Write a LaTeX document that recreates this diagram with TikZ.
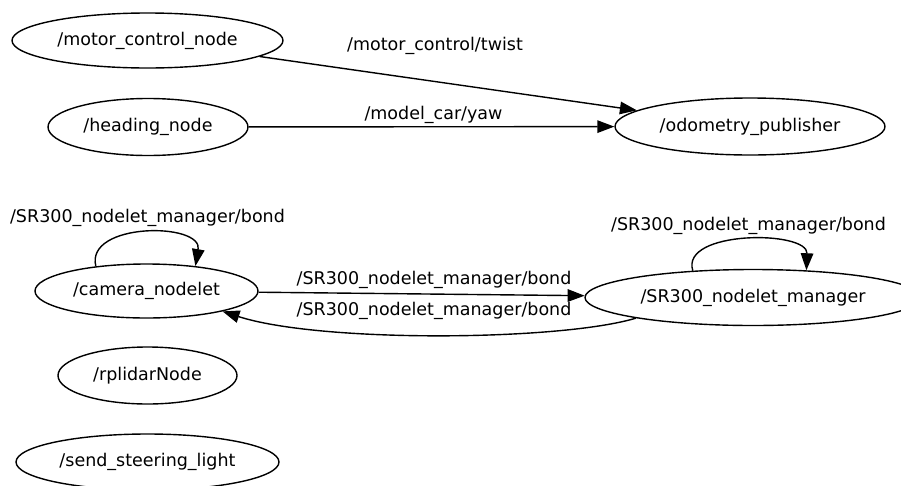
\documentclass[tikz,border=0pt]{standalone}
\usepackage{fontspec}
\setmainfont{DejaVu Sans}
\usetikzlibrary{shapes.geometric,arrows.meta}
\begin{document}
\begin{tikzpicture}[x=1pt,y=-1pt,
  every node/.style={font=\fontsize{17.5}{20}\selectfont},
  rosnode/.style={ellipse,draw,line width=1.4pt,inner sep=0pt},
  lbl/.style={inner sep=0pt,text height=0.76em,text depth=0.24em},
  edge/.style={line width=1.4pt,-{Triangle[length=17pt,width=12.5pt]}}]
\useasboundingbox (0,0) rectangle (901,485);
\clip (0,0) rectangle (901,485);
\node[rosnode,minimum width=271pt,minimum height=55pt] (motor) at (147.5,40.5) {\makebox[0pt]{/motor\_control\_node}};
\node[rosnode,minimum width=200pt,minimum height=57pt] (head) at (148,127) {\makebox[0pt]{/heading\_node}};
\node[rosnode,minimum width=270pt,minimum height=57pt] (odom) at (750,126.5) {\makebox[0pt]{/odometry\_publisher}};
\node[rosnode,minimum width=223pt,minimum height=54pt] (cam) at (146.5,291) {\makebox[0pt]{/camera\_nodelet}};
\node[rosnode,minimum width=336pt,minimum height=56pt] (mgr) at (753,297.5) {\makebox[0pt]{/SR300\_nodelet\_manager}};
\node[rosnode,minimum width=179pt,minimum height=57pt] (lidar) at (147.5,375.5) {\makebox[0pt]{/rplidarNode}};
\node[rosnode,minimum width=263pt,minimum height=56pt] (steer) at (147.5,462) {\makebox[0pt]{/send\_steering\_light}};
% edges
\draw[edge] (motor) -- (odom);
\draw[edge] (head) -- (odom);
\draw[edge] (cam) -- (mgr);
\draw[edge] (mgr.190) .. controls (560,341) and (320,343) .. (cam.345);
\draw[edge] (cam.154) .. controls (85,222) and (203,222) .. (cam.27);
\draw[edge] (mgr.156) .. controls (680,230) and (808,230) .. (mgr.27);
% labels
\node[lbl] (l1) at (435,48) {/motor\_control/twist};
\node[lbl] (l2) at (433.5,117) {/model\_car/yaw};
\node[lbl] (l3) at (147.5,220) {/SR300\_nodelet\_manager/bond};
\node[lbl] (l4) at (748.5,228) {/SR300\_nodelet\_manager/bond};
\node[lbl] (l5) at (434,282) {/SR300\_nodelet\_manager/bond};
\node[lbl] (l6) at (434,313) {/SR300\_nodelet\_manager/bond};
\end{tikzpicture}
\end{document}
